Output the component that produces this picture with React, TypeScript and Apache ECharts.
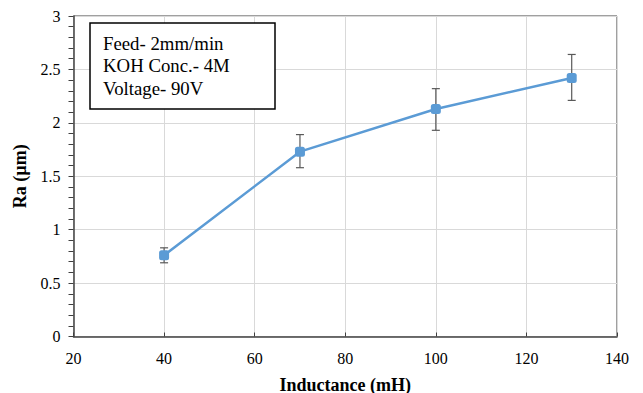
import React, { useEffect, useRef } from "react";
import * as echarts from "echarts";

const inductance = [40, 70, 100, 130];
const ra = [0.76, 1.73, 2.13, 2.42];
const errLow = [0.69, 1.58, 1.93, 2.21];
const errHigh = [0.83, 1.89, 2.32, 2.64];
const annotationLines = ["Feed- 2mm/min", "KOH Conc.- 4M", "Voltage- 90V"];

const FONT = "'Liberation Serif', 'Times New Roman', serif";

export default function App() {
  const ref = useRef<HTMLDivElement>(null);
  useEffect(() => {
    if (!ref.current) return;
    const chart = echarts.init(ref.current, undefined, { renderer: "svg" });
    const lineData = inductance.map((x, i) => [x, ra[i]]);
    const errData = inductance.map((x, i) => [x, errLow[i], errHigh[i]]);
    chart.setOption({
      animation: false,
      backgroundColor: "#fff",
      textStyle: { fontFamily: FONT },
      grid: {
        left: 73.5,
        right: 26,
        top: 16,
        bottom: 56.5,
        outerBoundsMode: "none",
        containLabel: false,
        show: true,
        borderColor: "#404040",
        borderWidth: 1,
      },
      xAxis: {
        type: "value",
        min: 20,
        max: 140,
        interval: 20,
        name: "Inductance (mH)",
        nameLocation: "middle",
        nameGap: 39,
        nameTextStyle: { fontFamily: FONT, fontWeight: "bold", fontSize: 18, color: "#000" },
        axisLine: { show: true, lineStyle: { color: "#404040", width: 1.5 } },
        axisTick: { show: true, inside: true, length: 4, lineStyle: { color: "#404040" } },
        axisLabel: { fontFamily: FONT, fontSize: 16, color: "#000", margin: 14 },
        splitLine: { show: true, lineStyle: { color: "#d9d9d9", width: 1 } },
      },
      yAxis: {
        type: "value",
        min: 0,
        max: 3,
        interval: 0.5,
        name: "Ra (µm)",
        nameLocation: "middle",
        nameGap: 45,
        nameRotate: 90,
        nameTextStyle: { fontFamily: FONT, fontWeight: "bold", fontSize: 18, color: "#000" },
        axisLine: { show: true, lineStyle: { color: "#404040", width: 1.5 } },
        axisTick: { show: true, inside: false, length: 5, lineStyle: { color: "#404040" } },
        minorTick: { show: true, splitNumber: 5, length: 5, lineStyle: { color: "#404040" } },
        axisLabel: { fontFamily: FONT, fontSize: 16, color: "#000", margin: 13 },
        splitLine: { show: true, lineStyle: { color: "#d9d9d9", width: 1 } },
      },
      series: [
        {
          type: "line",
          data: lineData,
          symbol: "roundRect",
          symbolSize: 10,
          lineStyle: { color: "#5B9BD5", width: 2.5 },
          itemStyle: { color: "#5B9BD5" },
          z: 3,
        },
        {
          type: "custom",
          data: errData,
          z: 2,
          renderItem: (params: any, api: any) => {
            const x = api.value(0);
            const lo = api.coord([x, api.value(1)]);
            const hi = api.coord([x, api.value(2)]);
            const hw = 4;
            const style = { stroke: "#595959", lineWidth: 1.2 };
            return {
              type: "group",
              children: [
                { type: "line", shape: { x1: lo[0], y1: lo[1], x2: hi[0], y2: hi[1] }, style },
                { type: "line", shape: { x1: lo[0] - hw, y1: lo[1], x2: lo[0] + hw, y2: lo[1] }, style },
                { type: "line", shape: { x1: hi[0] - hw, y1: hi[1], x2: hi[0] + hw, y2: hi[1] }, style },
              ],
            };
          },
        },
      ],
      graphic: [
        {
          type: "rect",
          shape: { x: 90, y: 23, width: 185, height: 86 },
          style: { fill: "#fff", stroke: "#000", lineWidth: 1.5 },
          z: 10,
        },
        ...annotationLines.map((t, i) => ({
          type: "text",
          x: 103,
          y: 43 + i * 22.5,
          style: {
            text: t,
            fontFamily: FONT,
            fontSize: 18.8,
            fill: "#000",
            verticalAlign: "middle",
          },
          z: 11,
        })),
      ],
    });
    return () => chart.dispose();
  }, []);
  return <div ref={ref} style={{ width: 643, height: 393, position: "absolute", left: 0, top: 0 }} />;
}
